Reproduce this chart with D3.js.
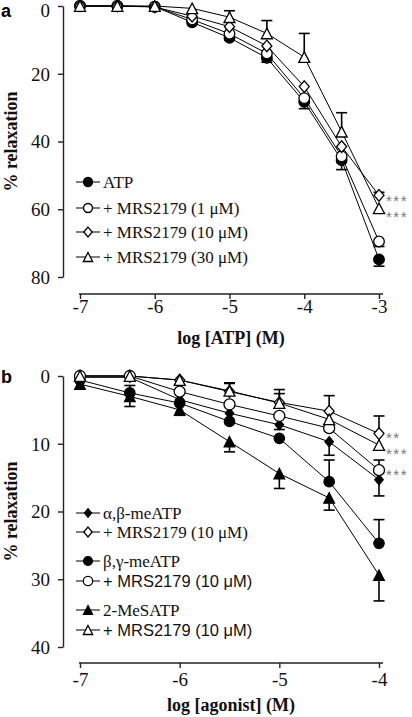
<!DOCTYPE html>
<html><head><meta charset="utf-8">
<script src="https://cdn.jsdelivr.net/npm/d3@7"></script>
<style>html,body{margin:0;padding:0;background:#fff}svg{display:block}</style>
</head><body><svg id="c" width="412" height="717"></svg>
<script>
// ---------- Panel a data ----------
const doseA = [-7, -6.5, -6, -5.5, -5, -4.5, -4, -3.5, -3];
const atpVals     = [0, 0, 0.2, 4.8, 9.4, 15.3, 28.3, 45.5, 74.8];
const atpErr      = [0, 0, 0, 0, 0.6, 1.3, 2.0, 2.8, 2.0];
const mrs1Vals    = [0, 0, 0.2, 4.0, 8.2, 14.0, 27.2, 44.4, 69.5];
const mrs1Err     = [0, 0, 0, 0, 0, 0, 0, 0, 1.5];
const mrs10Vals   = [0, 0, 0.3, 3.0, 6.1, 11.8, 23.8, 41.5, 55.9];
const mrs10Err    = [0, 0, 0, 0, 0, 0, 0, 0, -0.9];
const mrs30Vals   = [0, 0, 0, 0.7, 3.3, 8.1, 15.1, 37.1, 59.7];
const mrs30Err    = [0, 0, 0, 0, -1.9, -3.8, -7.0, -5.6, 1.3];
const legendA = ["ATP", "+ MRS2179 (1 \u03bcM)", "+ MRS2179 (10 \u03bcM)", "+ MRS2179 (30 \u03bcM)"];
const yTicksA = [0, 20, 40, 60, 80];
const xTicksA = [-7, -6, -5, -4, -3];
const xTickLabelsA = ["-7", "-6", "-5", "-4", "-3"];
const sigA = ["***", "***"];

// ---------- Panel b data ----------
const doseB = [-7, -6.5, -6, -5.5, -5, -4.5, -4];
const abVals     = [0.2, 0.2, 3.5, 5.5, 7.2, 9.7, 15.3];
const abErr      = [0, 0, 0, 0, 0.7, 2.0, 2.4];
const abMrsVals  = [0, 0, 0.6, 2.3, 3.9, 5.2, 8.5];
const abMrsErr   = [0, 0, 0, -1.2, -1.9, -2.3, -2.6];
const bgVals     = [0.6, 2.5, 4.0, 6.7, 9.2, 15.6, 24.7];
const bgErr      = [0, -1.1, 0, 0, 0, -3.2, -3.5];
const bgMrsVals  = [0, 0, 2.3, 4.2, 5.9, 7.7, 13.9];
const bgMrsErr   = [0, 0, 0, 0, 0, 0, -1.5];
const msVals     = [1.2, 3.0, 5.0, 9.7, 14.4, 18.0, 29.4];
const msErr      = [0, 1.5, 0.8, 1.5, 2.2, 1.8, 3.8];
const msMrsVals  = [0, 0, 0.6, 2.2, 4.0, 6.4, 10.2];
const msMrsErr   = [0, 0, 0, -1.2, -1.4, 0, 0];
const legendB = ["\u03b1,\u03b2-meATP", "+ MRS2179 (10 \u03bcM)", "\u03b2,\u03b3-meATP", "+ MRS2179 (10 \u03bcM)", "2-MeSATP", "+ MRS2179 (10 \u03bcM)"];
const yTicksB = [0, 10, 20, 30, 40];
const xTicksB = [-7, -6, -5, -4];
const xTickLabelsB = ["-7", "-6", "-5", "-4"];
const sigB = ["**", "***", "***"];

// ---------- drawing ----------
const SERIF = "'Liberation Serif','Times New Roman',Times,serif";
const SANS = "'Liberation Sans',Arial,Helvetica,sans-serif";
const svg = d3.select("#c");

function shapePath(shape, hw, hh) {
  const p = d3.path();
  if (shape === "circle") { p.arc(0, 0, hw, 0, 2 * Math.PI); p.closePath(); }
  else if (shape === "diamond") { p.moveTo(0, -hh); p.lineTo(hw, 0); p.lineTo(0, hh); p.lineTo(-hw, 0); p.closePath(); }
  else { p.moveTo(0, -hh); p.lineTo(hw, hh); p.lineTo(-hw, hh); p.closePath(); }
  return p.toString();
}
function drawMarker(g, m, cx, cy, k) {
  g.append("path").attr("d", shapePath(m.shape, m.hw * k, m.hh * k))
    .attr("transform", `translate(${cx},${cy})`)
    .attr("fill", m.filled ? "#000" : "#fff")
    .attr("stroke", "#000").attr("stroke-width", 1.3);
}

function panel(cfg) {
  const g = svg.append("g");
  const x = d3.scaleLinear().domain(cfg.xDomain).range([80, 379]);
  const y = d3.scaleLinear().domain(cfg.yDomain).range(cfg.yRange);

  // y axis
  const ya = g.append("g").attr("transform", "translate(63,0)")
    .call(d3.axisLeft(y).tickValues(cfg.yTicks).tickSize(5).tickSizeOuter(0).tickPadding(8).tickFormat(d3.format("d")));
  ya.selectAll("path,line").attr("stroke", "#222").attr("stroke-width", 1.4);
  ya.selectAll("text").attr("font-family", SERIF).attr("font-size", 19).attr("fill", "#111").attr("dy", "0.34em");
  if (cfg.topLabelShift) ya.selectAll(".tick text").filter((d, i) => i === 0).attr("y", cfg.topLabelShift);

  // x axis
  const xa = g.append("g").attr("transform", `translate(0,${cfg.xAxisY})`)
    .call(d3.axisBottom(x).tickValues(cfg.xTicks).tickSize(5).tickSizeOuter(0)
      .tickFormat((d, i) => cfg.xTickLabels[i]));
  xa.select(".domain").remove();
  xa.append("line").attr("x1", x(cfg.xDomain[0]) - 1).attr("x2", x(cfg.xDomain[1]) + 4)
    .attr("stroke", "#222").attr("stroke-width", 1.4);
  xa.selectAll(".tick line").attr("stroke", "#222").attr("stroke-width", 1.4);
  xa.selectAll("text").attr("font-family", SERIF).attr("font-size", 19).attr("fill", "#111")
    .attr("y", cfg.xLabelBase).attr("dy", 0);

  // axis titles
  g.append("text").attr("x", 231).attr("y", cfg.xTitleY).attr("text-anchor", "middle")
    .attr("font-family", SERIF).attr("font-weight", "bold").attr("font-size", 18).attr("fill", "#111")
    .text(cfg.xTitle);
  const yc = (cfg.yRange[0] + cfg.yRange[1]) / 2;
  g.append("text").attr("transform", `translate(16.5,${yc}) rotate(-90)`).attr("text-anchor", "middle")
    .attr("font-family", SERIF).attr("font-weight", "bold").attr("font-size", 18).attr("fill", "#111")
    .text("% relaxation");
  g.append("text").attr("x", 1).attr("y", cfg.letterY).attr("font-family", SANS)
    .attr("font-weight", "bold").attr("font-size", 18).attr("fill", "#000").text(cfg.letter);

  const line = d3.line().x(d => x(d.x)).y(d => y(d.v));
  const pts = s => cfg.dose.map((d, i) => ({ x: d, v: s.vals[i], e: s.err[i] }));
  // lines
  cfg.series.forEach(s => {
    g.append("path").datum(pts(s)).attr("d", line).attr("fill", "none")
      .attr("stroke", "#000").attr("stroke-width", 1);
  });
  // error bars
  cfg.series.forEach(s => {
    pts(s).filter(p => p.e !== 0).forEach(p => {
      const cx = x(p.x), y0 = y(p.v), y1 = y(p.v + p.e);
      g.append("line").attr("x1", cx).attr("x2", cx).attr("y1", y0).attr("y2", y1)
        .attr("stroke", "#000").attr("stroke-width", 1.6);
      g.append("line").attr("x1", cx - 5.5).attr("x2", cx + 5.5).attr("y1", y1).attr("y2", y1)
        .attr("stroke", "#000").attr("stroke-width", 1.6);
    });
  });
  // markers
  cfg.series.forEach(s => {
    pts(s).forEach(p => drawMarker(g, s.m, x(p.x), y(p.v), 1));
  });
  // significance
  cfg.sig.forEach((t, i) => {
    const s = cfg.series[cfg.sigSeries[i]];
    const v = s.vals[s.vals.length - 1];
    g.append("text").attr("x", 386).attr("y", y(v) + cfg.sigDy[i] + 9)
      .attr("font-family", SANS).attr("font-size", 15).attr("letter-spacing", 1.5)
      .attr("fill", "#777").text(t);
  });
  // legend
  cfg.series.forEach((s, i) => {
    const ly = cfg.legendY[i];
    g.append("line").attr("x1", 76).attr("x2", 100).attr("y1", ly).attr("y2", ly)
      .attr("stroke", "#000").attr("stroke-width", 1);
    drawMarker(g, s.m, 88, ly, 0.85);
    g.append("text").attr("x", 103).attr("y", ly).attr("dy", "0.35em")
      .attr("font-family", cfg.legendFont[i]).attr("font-size", cfg.legendFont[i] === SANS ? 16.5 : 17)
      .attr("fill", "#111").text(cfg.legend[i]);
  });
}

panel({
  letter: "a", letterY: 16.5, topLabelShift: 4.5,
  dose: doseA, xDomain: [-7, -3], yDomain: [0, 80], yRange: [6, 277],
  yTicks: yTicksA, xTicks: xTicksA, xTickLabels: xTickLabelsA,
  xAxisY: 294, xLabelBase: 19, xTitleY: 344, xTitle: "log [ATP] (M)",
  series: [
    { vals: atpVals, err: atpErr, m: { shape: "circle", hw: 5.3, hh: 5.3, filled: true } },
    { vals: mrs1Vals, err: mrs1Err, m: { shape: "circle", hw: 5.3, hh: 5.3, filled: false } },
    { vals: mrs10Vals, err: mrs10Err, m: { shape: "diamond", hw: 5, hh: 5.8, filled: false } },
    { vals: mrs30Vals, err: mrs30Err, m: { shape: "triangle", hw: 5.5, hh: 5.3, filled: false } }
  ],
  legend: legendA, legendY: [182, 208, 232, 257], legendFont: [SERIF, SERIF, SERIF, SERIF],
  sig: sigA, sigSeries: [2, 3], sigDy: [1.5, 4.5]
});

panel({
  letter: "b", letterY: 383,
  dose: doseB, xDomain: [-7, -4], yDomain: [0, 40], yRange: [376, 647],
  yTicks: yTicksB, xTicks: xTicksB, xTickLabels: xTickLabelsB,
  xAxisY: 663, xLabelBase: 23, xTitleY: 711, xTitle: "log [agonist] (M)",
  series: [
    { vals: abVals, err: abErr, m: { shape: "diamond", hw: 4.2, hh: 5, filled: true } },
    { vals: abMrsVals, err: abMrsErr, m: { shape: "diamond", hw: 5, hh: 5.8, filled: false } },
    { vals: bgVals, err: bgErr, m: { shape: "circle", hw: 5.2, hh: 5.2, filled: true } },
    { vals: bgMrsVals, err: bgMrsErr, m: { shape: "circle", hw: 5.5, hh: 5.5, filled: false } },
    { vals: msVals, err: msErr, m: { shape: "triangle", hw: 5.3, hh: 5.2, filled: true } },
    { vals: msMrsVals, err: msMrsErr, m: { shape: "triangle", hw: 5.5, hh: 5.3, filled: false } }
  ],
  legend: legendB, legendY: [513, 532, 561, 581, 610, 630],
  legendFont: [SERIF, SERIF, SERIF, SANS, SERIF, SANS],
  sig: sigB, sigSeries: [1, 5, 3], sigDy: [0, 5, 1]
});
</script></body></html>
